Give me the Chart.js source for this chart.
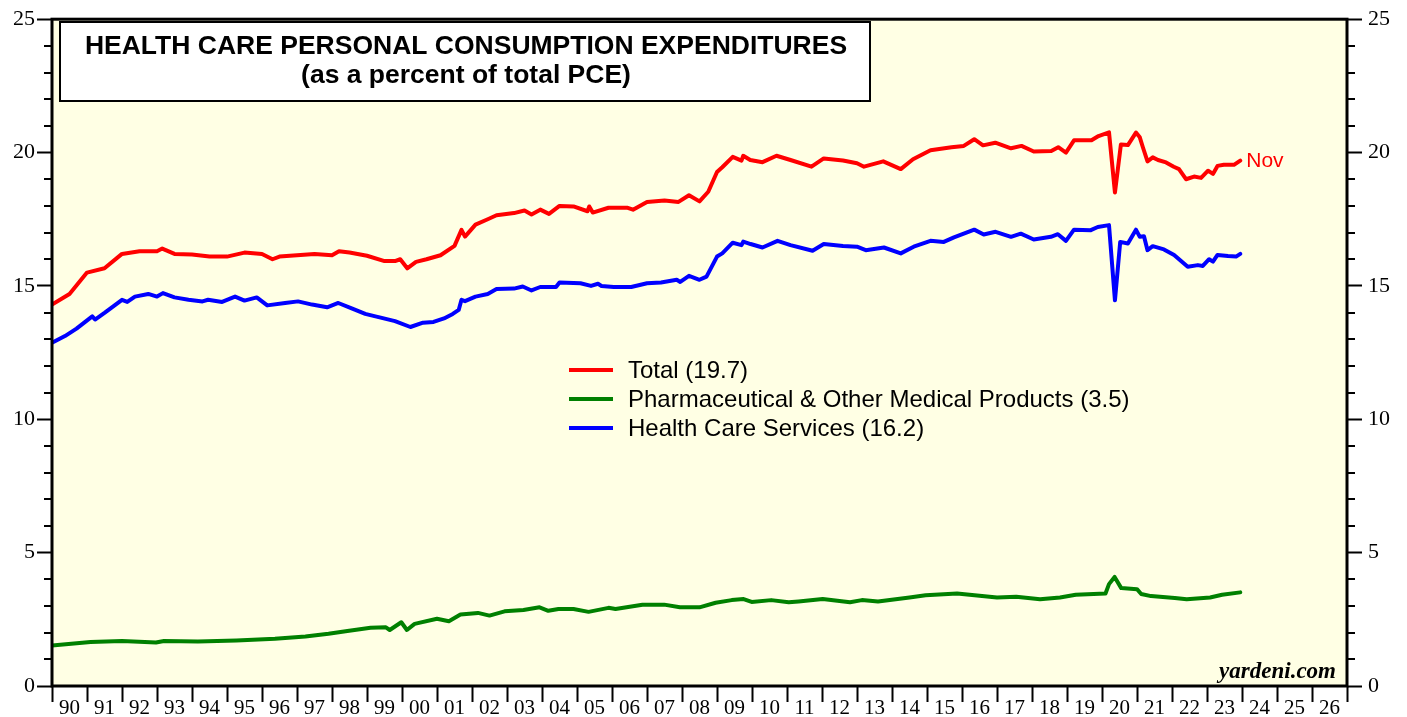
<!DOCTYPE html>
<html>
<head>
<meta charset="utf-8">
<script src="https://cdn.jsdelivr.net/npm/chart.js@4.4.1/dist/chart.umd.min.js"></script>
<style>
  body { margin: 0; background: #fff; }
  canvas { display: block; }
</style>
</head>
<body>
<canvas id="pceChart" width="1407" height="717"></canvas>
<script>
// Total health care PCE share (%)
const totalDates = [1990.0, 1990.5, 1991.0, 1991.5, 1992.0, 1992.5, 1993.0, 1993.15, 1993.5, 1994.0,
  1994.5, 1995.0, 1995.5, 1996.0, 1996.3, 1996.5, 1997.0, 1997.5, 1998.0, 1998.2,
  1998.5, 1999.0, 1999.5, 1999.8, 1999.95, 2000.15, 2000.4, 2000.7, 2001.1, 2001.5,
  2001.7, 2001.8, 2002.1, 2002.45, 2002.7, 2003.2, 2003.5, 2003.7, 2003.95, 2004.2,
  2004.5, 2004.9, 2005.3, 2005.35, 2005.45, 2005.9, 2006.45, 2006.6, 2007.0, 2007.5,
  2007.9, 2008.2, 2008.5, 2008.75, 2009.0, 2009.15, 2009.45, 2009.7, 2009.75, 2009.95,
  2010.3, 2010.7, 2011.1, 2011.7, 2012.05, 2012.6, 2013.0, 2013.2, 2013.75, 2014.25,
  2014.6, 2015.1, 2015.7, 2016.05, 2016.35, 2016.6, 2016.95, 2017.4, 2017.7, 2018.05,
  2018.55, 2018.75, 2018.97, 2019.2, 2019.7, 2019.9, 2020.2, 2020.37, 2020.54, 2020.74,
  2020.97, 2021.08, 2021.17, 2021.3, 2021.45, 2021.6, 2021.83, 2022.05, 2022.2, 2022.4,
  2022.63, 2022.83, 2023.03, 2023.17, 2023.3, 2023.48, 2023.77, 2023.95];
const totalValues = [14.3, 14.7, 15.5, 15.66, 16.2, 16.3, 16.3, 16.4, 16.2, 16.18,
  16.1, 16.1, 16.25, 16.2, 16.0, 16.1, 16.15, 16.2, 16.15, 16.3,
  16.25, 16.13, 15.93, 15.93, 16.0, 15.66, 15.9, 16.0, 16.15, 16.5,
  17.1, 16.85, 17.3, 17.5, 17.65, 17.73, 17.83, 17.68, 17.86, 17.7,
  18.0, 17.98, 17.8, 17.98, 17.75, 17.93, 17.93, 17.86, 18.15, 18.2,
  18.15, 18.4, 18.17, 18.53, 19.27, 19.45, 19.84, 19.7, 19.88, 19.72,
  19.64, 19.88, 19.72, 19.47, 19.78, 19.7, 19.6, 19.47, 19.67, 19.38,
  19.75, 20.09, 20.2, 20.25, 20.5, 20.27, 20.37, 20.16, 20.25, 20.04,
  20.06, 20.2, 20.0, 20.46, 20.46, 20.62, 20.76, 18.5, 20.3, 20.28,
  20.75, 20.57, 20.19, 19.67, 19.82, 19.72, 19.63, 19.47, 19.38, 19.0,
  19.1, 19.05, 19.32, 19.2, 19.5, 19.54, 19.54, 19.7];

// Pharmaceutical & other medical products
const pharmaDates = [1990.0, 1991.1, 1992.0, 1992.97, 1993.2, 1994.17, 1995.27, 1996.37, 1997.24, 1997.9,
  1998.44, 1999.1, 1999.54, 1999.65, 1999.98, 2000.14, 2000.36, 2001.0, 2001.34, 2001.67,
  2002.17, 2002.5, 2002.93, 2003.47, 2003.93, 2004.18, 2004.47, 2004.9, 2005.33, 2005.9,
  2006.1, 2006.87, 2007.49, 2007.94, 2008.5, 2008.96, 2009.42, 2009.76, 2009.99, 2010.55,
  2011.05, 2011.33, 2012.02, 2012.8, 2013.14, 2013.6, 2014.5, 2014.96, 2015.86, 2017.0,
  2017.55, 2018.23, 2018.8, 2019.25, 2020.1, 2020.2, 2020.36, 2020.55, 2021.0, 2021.12,
  2021.4, 2022.08, 2022.42, 2023.09, 2023.43, 2023.95];
const pharmaValues = [1.52, 1.65, 1.69, 1.63, 1.69, 1.67, 1.71, 1.77, 1.86, 1.96,
  2.06, 2.18, 2.2, 2.1, 2.39, 2.1, 2.33, 2.52, 2.43, 2.68,
  2.74, 2.64, 2.8, 2.85, 2.95, 2.82, 2.89, 2.89, 2.78, 2.93,
  2.89, 3.05, 3.05, 2.95, 2.95, 3.12, 3.22, 3.26, 3.15, 3.22,
  3.14, 3.17, 3.26, 3.14, 3.22, 3.17, 3.32, 3.4, 3.47, 3.32,
  3.35, 3.25, 3.32, 3.42, 3.47, 3.82, 4.09, 3.67, 3.63, 3.45,
  3.37, 3.3, 3.25, 3.32, 3.42, 3.51];

// Health care services
const servicesDates = [1990.0, 1990.37, 1990.7, 1991.15, 1991.23, 1991.5, 1992.0, 1992.15, 1992.37, 1992.75,
  1993.0, 1993.17, 1993.5, 1993.9, 1994.3, 1994.46, 1994.86, 1995.23, 1995.5, 1995.85,
  1996.15, 1996.66, 1997.03, 1997.43, 1997.86, 1998.18, 1998.58, 1998.95, 1999.33, 1999.8,
  2000.24, 2000.6, 2000.9, 2001.2, 2001.45, 2001.62, 2001.7, 2001.8, 2002.1, 2002.45,
  2002.7, 2003.2, 2003.45, 2003.7, 2003.95, 2004.4, 2004.5, 2005.1, 2005.4, 2005.6,
  2005.7, 2006.05, 2006.55, 2007.0, 2007.4, 2007.85, 2007.95, 2008.2, 2008.5, 2008.7,
  2009.0, 2009.15, 2009.45, 2009.7, 2009.75, 2009.96, 2010.3, 2010.73, 2011.1, 2011.73,
  2012.05, 2012.6, 2013.0, 2013.25, 2013.77, 2014.25, 2014.62, 2015.1, 2015.48, 2015.77,
  2016.35, 2016.62, 2016.96, 2017.4, 2017.68, 2018.05, 2018.54, 2018.74, 2018.97, 2019.2,
  2019.68, 2019.88, 2020.2, 2020.37, 2020.52, 2020.74, 2020.97, 2021.08, 2021.2, 2021.3,
  2021.45, 2021.77, 2022.06, 2022.45, 2022.74, 2022.88, 2023.06, 2023.17, 2023.3, 2023.6,
  2023.83, 2023.95];
const servicesValues = [12.87, 13.12, 13.4, 13.86, 13.74, 13.99, 14.48, 14.4, 14.6, 14.7,
  14.6, 14.73, 14.57, 14.48, 14.42, 14.48, 14.4, 14.6, 14.45, 14.57,
  14.27, 14.36, 14.42, 14.3, 14.2, 14.36, 14.15, 13.95, 13.83, 13.68,
  13.46, 13.62, 13.65, 13.78, 13.95, 14.1, 14.48, 14.43, 14.6, 14.7,
  14.88, 14.9, 14.98, 14.83, 14.96, 14.96, 15.13, 15.1, 15.0, 15.08,
  15.0, 14.96, 14.96, 15.1, 15.13, 15.23, 15.15, 15.38, 15.23, 15.35,
  16.1, 16.22, 16.62, 16.53, 16.66, 16.57, 16.44, 16.69, 16.53, 16.32,
  16.57, 16.5, 16.47, 16.34, 16.44, 16.22, 16.47, 16.69, 16.65, 16.82,
  17.11, 16.93, 17.03, 16.84, 16.96, 16.74, 16.84, 16.94, 16.69, 17.11,
  17.09, 17.21, 17.28, 14.46, 16.65, 16.59, 17.11, 16.84, 16.86, 16.34,
  16.49, 16.37, 16.16, 15.72, 15.78, 15.75, 16.0, 15.91, 16.16, 16.12,
  16.1, 16.2];

const seriesLabels = ['Total (19.7)', 'Pharmaceutical & Other Medical Products (3.5)', 'Health Care Services (16.2)'];
const seriesColors = ['#ff0000', '#008000', '#0000ff'];
const yearStart = 1990;
const yearEnd = 2027;
const titleLines = ['HEALTH CARE PERSONAL CONSUMPTION EXPENDITURES', '(as a percent of total PCE)'];

function toPoints(xs, ys) {
  return xs.map((x, i) => ({ x: x, y: ys[i] }));
}

const serif = "'Liberation Serif', 'Times New Roman', serif";
const sans = "'Liberation Sans', Arial, sans-serif";

const decorations = {
  id: 'decorations',
  beforeDraw(chart) {
    const { ctx, chartArea: a } = chart;
    ctx.save();
    ctx.fillStyle = '#ffffe4';
    ctx.fillRect(a.left, a.top, a.right - a.left, a.bottom - a.top);
    ctx.restore();
  },
  afterDraw(chart) {
    const { ctx, chartArea: a } = chart;
    const yl = chart.scales.y;
    ctx.save();

    // minor ticks on both value axes
    ctx.strokeStyle = '#000';
    ctx.lineWidth = 2;
    for (let v = 0; v <= 25; v++) {
      if (v % 5 === 0) continue;
      const py = Math.round(yl.getPixelForValue(v));
      ctx.beginPath();
      ctx.moveTo(a.left - 8, py); ctx.lineTo(a.left, py);
      ctx.moveTo(a.right, py); ctx.lineTo(a.right + 8, py);
      ctx.stroke();
    }

    // plot frame
    ctx.lineWidth = 3;
    ctx.strokeRect(a.left, a.top, a.right - a.left, a.bottom - a.top);

    // title box
    ctx.fillStyle = '#fff';
    ctx.fillRect(60, 22, 810, 79);
    ctx.lineWidth = 2;
    ctx.strokeRect(60, 22, 810, 79);
    ctx.fillStyle = '#000';
    ctx.textAlign = 'center';
    ctx.textBaseline = 'middle';
    ctx.font = 'bold 26.5px ' + sans;
    ctx.fillText(titleLines[0], 466, 47);
    ctx.fillText(titleLines[1], 466, 76);

    // legend
    ctx.textAlign = 'left';
    ctx.font = '24px ' + sans;
    chart.data.datasets.forEach((ds, i) => {
      const ly = 370 + i * 29;
      ctx.strokeStyle = ds.borderColor;
      ctx.lineWidth = 4;
      ctx.beginPath();
      ctx.moveTo(569, ly); ctx.lineTo(613, ly);
      ctx.stroke();
      ctx.fillStyle = '#000';
      ctx.fillText(ds.label, 628, ly + 1);
    });

    // "Nov" tag next to the last Total point
    const tot = chart.data.datasets[0].data;
    const last = tot[tot.length - 1];
    ctx.fillStyle = seriesColors[0];
    ctx.font = '21px ' + sans;
    ctx.fillText('Nov', chart.scales.x.getPixelForValue(last.x) + 6, yl.getPixelForValue(last.y) + 1);

    // source
    ctx.fillStyle = '#000';
    ctx.textAlign = 'right';
    ctx.textBaseline = 'alphabetic';
    ctx.font = 'italic bold 23px ' + serif;
    ctx.fillText('yardeni.com', 1336, 678);
    ctx.restore();
  }
};

const tickGrid = (len) => ({
  display: true,
  drawOnChartArea: false,
  drawTicks: true,
  tickLength: len,
  tickWidth: 2,
  tickColor: '#000'
});

new Chart(document.getElementById('pceChart'), {
  type: 'line',
  data: {
    datasets: [
      { label: seriesLabels[0], data: toPoints(totalDates, totalValues), borderColor: seriesColors[0] },
      { label: seriesLabels[1], data: toPoints(pharmaDates, pharmaValues), borderColor: seriesColors[1] },
      { label: seriesLabels[2], data: toPoints(servicesDates, servicesValues), borderColor: seriesColors[2] }
    ]
  },
  options: {
    responsive: false,
    animation: false,
    layout: { padding: { top: 14, left: 0, right: 0, bottom: 0 } },
    elements: {
      line: { borderWidth: 4, tension: 0, borderJoinStyle: 'round', borderCapStyle: 'round' },
      point: { radius: 0 }
    },
    plugins: {
      legend: { display: false },
      tooltip: { enabled: false }
    },
    scales: {
      x: {
        type: 'linear',
        min: yearStart,
        max: yearEnd,
        border: { display: false },
        grid: tickGrid(16),
        ticks: {
          stepSize: 1,
          autoSkip: false,
          maxRotation: 0,
          labelOffset: 17.5,
          padding: -6,
          color: '#000',
          font: { family: serif, size: 21 },
          callback: (v) => v < yearEnd ? String(v % 100).padStart(2, '0') : ''
        },
        afterFit: (s) => { s.height = 31; }
      },
      y: {
        position: 'left',
        min: 0,
        max: 25,
        border: { display: false },
        grid: tickGrid(15),
        ticks: { stepSize: 5, padding: 2, color: '#000', font: { family: serif, size: 22 } },
        afterFit: (s) => { s.width = 52; }
      },
      y2: {
        position: 'right',
        min: 0,
        max: 25,
        border: { display: false },
        grid: tickGrid(15),
        ticks: { stepSize: 5, padding: 6, color: '#000', font: { family: serif, size: 22 } },
        afterFit: (s) => { s.width = 60; }
      }
    }
  },
  plugins: [decorations]
});
</script>
</body>
</html>
